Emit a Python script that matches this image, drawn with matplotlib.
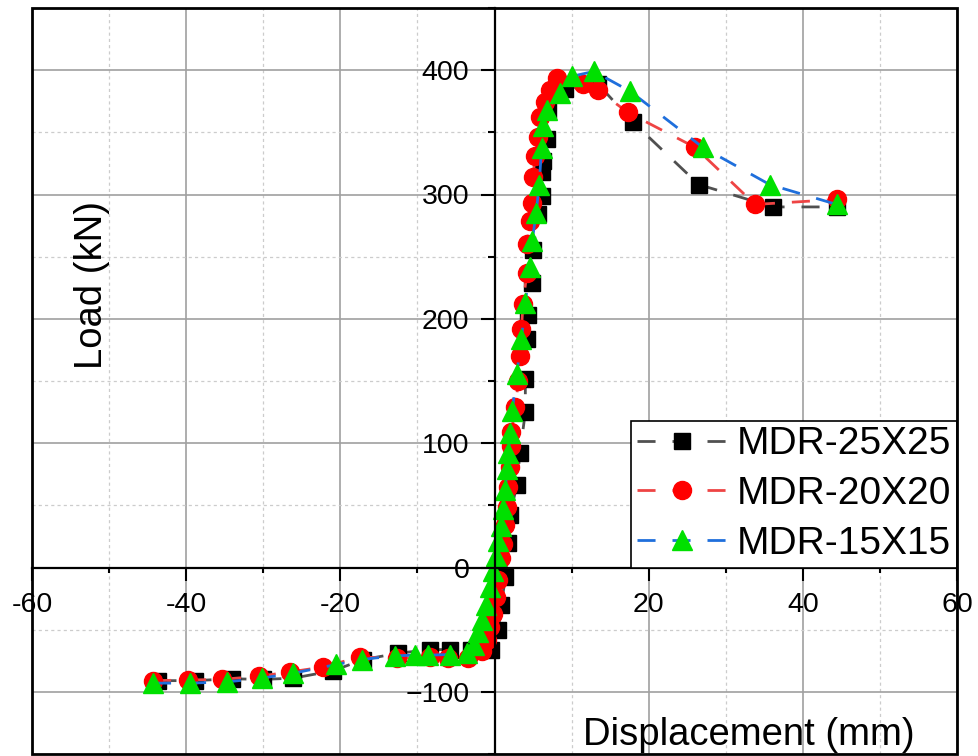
import matplotlib
matplotlib.use('Agg')
import matplotlib.pyplot as plt
from matplotlib.ticker import MultipleLocator
from matplotlib.patches import Rectangle

plt.rcParams['font.family'] = ['Liberation Sans', 'DejaVu Sans']

# MDR-25X25
x25 = [-43.6, -38.9, -34.1, -30.0, -26.1, -20.9, -17.0, -12.5, -8.4, -5.8, -3.0, -0.4,
       0.5, 0.9, 1.4, 1.8, 2.0, 2.9, 3.3, 4.0, 4.0, 4.2, 4.4, 4.8, 5.0, 5.65, 6.1, 6.1,
       6.3, 6.8, 6.9, 9.1, 13.4, 18.0, 26.5, 36.1, 44.4]
y25 = [-91, -91, -89.5, -90, -89, -83, -74, -69, -66, -66, -66, -66,
       -50, -30, -8, 20, 42, 66, 92, 125, 152, 184, 203, 229, 255, 284, 299, 318,
       327, 345, 368, 385, 389, 358, 308, 290, 290]

# MDR-20X20
x20 = [-44.3, -39.7, -35.4, -30.6, -26.5, -22.2, -17.5, -12.7, -8.4, -6.0, -3.4, -1.6,
       -1.0, -0.6, -0.2, 0.2, 0.5, 0.9, 1.15, 1.4, 1.6, 1.8, 2.0, 2.2, 2.2, 2.7, 3.1,
       3.3, 3.5, 3.7, 4.2, 4.2, 4.6, 4.8, 5.0, 5.25, 5.7, 5.9, 6.6, 7.2, 8.15, 11.5,
       13.4, 17.3, 26.0, 33.8, 44.4]
y20 = [-91, -90.5, -90, -87.5, -84, -80, -72, -73, -72, -73, -73, -67,
       -58, -48, -37, -24, -10, 8, 19, 34, 49, 65, 81, 98, 109, 129, 150,
       170, 192, 212, 237, 260, 279, 293, 314, 331, 346, 362, 374, 384, 394, 389,
       384, 366, 338, 292, 296]

# MDR-15X15
x15 = [-44.3, -39.5, -34.7, -30.2, -26.1, -20.5, -17.2, -12.9, -10.3, -8.6, -5.8, -3.6,
       -2.7, -2.1, -1.6, -1.1, -0.6, -0.2, 0.2, 0.5, 0.8, 1.1, 1.4, 1.6, 1.8, 2.0, 2.3,
       2.9, 3.5, 4.0, 4.6, 4.9, 5.4, 5.8, 6.1, 6.3, 6.8, 8.5, 10.0, 12.9, 17.6, 27.0,
       35.7, 44.4]
y15 = [-93, -93, -92, -89, -85, -78, -74, -71, -70.5, -70.5, -70, -68.5,
       -62, -52, -42, -30, -16, -3, 9, 21, 33, 47, 62, 79, 92, 108, 126,
       156, 184, 213, 242, 263, 285, 308, 337, 355, 368, 382, 395, 399, 383, 338,
       308, 292]

fig = plt.figure(figsize=(9.79, 7.56), dpi=100)
ax = fig.add_axes([32/979, 2/756, 925/979, 746/756])

dash = (0, (6.5, 6.1))
ax.plot(x25, y25, linestyle=dash, lw=2, color='#505050', marker='s', ms=11,
        mfc='black', mec='black', label='MDR-25X25')
ax.plot(x20, y20, linestyle=dash, lw=2, color='#ee4444', marker='o', ms=13,
        mfc='#ff0000', mec='#ff0000', label='MDR-20X20')
ax.plot(x15, y15, linestyle=dash, lw=2, color='#1f6fdc', marker='^', ms=14,
        mfc='#00e000', mec='#00e000', label='MDR-15X15')

ax.set_xlim(-60, 60)
ax.set_ylim(-150, 450)
ax.xaxis.set_major_locator(MultipleLocator(20))
ax.xaxis.set_minor_locator(MultipleLocator(10))
ax.yaxis.set_major_locator(MultipleLocator(100))
ax.yaxis.set_minor_locator(MultipleLocator(50))
ax.set_xticks([-60, -40, -20, 0, 20, 40, 60])
ax.set_xticklabels(['-60', '-40', '-20', '', '20', '40', '60'])
ax.set_yticks([-100, 0, 100, 200, 300, 400])

ax.grid(which='major', color='#a0a0a0', lw=1.2, ls='-')
ax.grid(which='minor', color='#cccccc', lw=0.9, ls=(0, (2.5, 2.5)))
ax.set_axisbelow(True)

for s in ['top', 'right']:
    ax.spines[s].set_visible(False)
ax.spines['left'].set_position(('data', 0))
ax.spines['bottom'].set_position(('data', 0))
ax.spines['left'].set_linewidth(1.6)
ax.spines['bottom'].set_linewidth(1.6)
ax.add_patch(Rectangle((0, 0), 1, 1, transform=ax.transAxes, fill=False,
                       ec='black', lw=2, clip_on=False, zorder=6))

ax.tick_params(axis='x', which='major', direction='out', length=9, width=1.5,
               pad=9, labelsize=20.5)
ax.tick_params(axis='x', which='minor', direction='out', length=3.5, width=1.5)
ax.tick_params(axis='y', which='major', direction='out', length=10, width=1.5,
               pad=8, labelsize=20.5)
ax.tick_params(axis='y', which='minor', direction='out', length=5, width=1.5)

ax.text(0.065, 0.629, 'Load (kN)', transform=ax.transAxes, rotation=90,
        ha='center', va='center', fontsize=27.5)
ax.text(0.775, 0.012, 'Displacement (mm)', transform=ax.transAxes,
        ha='center', va='baseline', fontsize=27.5)

leg = ax.legend(loc='lower right', bbox_to_anchor=(1.0, 0.25), fontsize=28,
                frameon=True, fancybox=False, edgecolor='black', framealpha=1,
                handlelength=2.3, handletextpad=0.26, borderpad=0.15,
                labelspacing=0.35, borderaxespad=0, numpoints=1)
leg.get_frame().set_linewidth(1.2)

fig.savefig('out.png', dpi=100)
